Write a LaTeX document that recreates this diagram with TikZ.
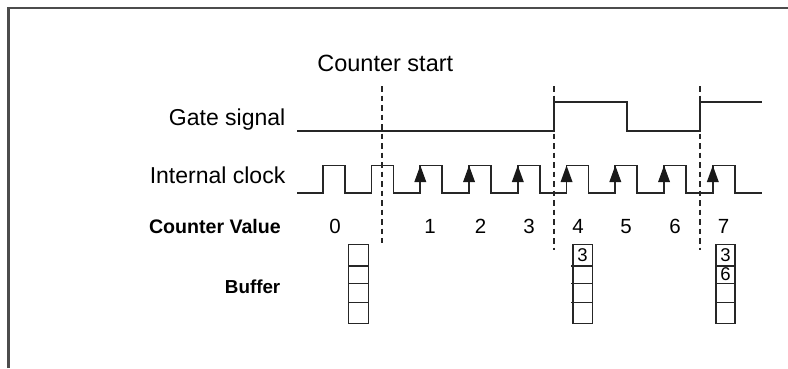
\documentclass[tikz,border=0pt]{standalone}
\usepackage{fontspec}
\setmainfont{Liberation Sans}
\begin{document}
\begin{tikzpicture}[x=1pt,y=-1pt,
  lbl/.style={anchor=base east,inner sep=0pt,font=\fontsize{23}{26}\selectfont},
  blbl/.style={anchor=base east,inner sep=0pt,font=\bfseries\fontsize{19.6}{22}\selectfont},
  num/.style={anchor=base,inner sep=0pt,font=\fontsize{20.5}{22}\selectfont},
  cellnum/.style={inner sep=0pt,font=\fontsize{18.5}{19}\selectfont},
  wave/.style={line width=1.7pt,black!85,line join=miter},
  dashline/.style={line width=1.4pt,dash pattern=on 5.5pt off 4pt,black!85},
  cellbox/.style={line width=1.6pt,black!85},
  frame/.style={line width=2.4pt,black!70}]
\useasboundingbox (0,0) rectangle (788,368);
\fill[white] (0,0) rectangle (788,368);
% frame (only top and left visible)
\draw[frame] (8.3,368) -- (8.3,8) -- (788,8);

% labels
\node[anchor=base,inner sep=0pt,font=\fontsize{23.5}{26}\selectfont] (cs) at (385.3,71.7) {Counter start};
\node[lbl] (gl) at (285.5,125) {Gate signal};
\node[lbl] (cl) at (285.5,183.3) {Internal clock};
\node[blbl] (cvl) at (281,233.3) {Counter Value};
\node[blbl,font=\bfseries\fontsize{18.8}{21}\selectfont] (bl) at (280.5,293.3) {Buffer};

% dashed markers
\coordinate (d1t) at (382,86); \coordinate (d1b) at (382,243);
\coordinate (d2t) at (554,86); \coordinate (d2b) at (554,250);
\coordinate (d3t) at (700,86); \coordinate (d3b) at (700,250);
\draw[dashline] (d1t) -- (d1b);
\draw[dashline] (d2t) -- (d2b);
\draw[dashline] (d3t) -- (d3b);

% gate signal
\draw[wave] (297,131) -- (554,131) -- (554,102) -- (627,102) -- (627,131)
  -- (700,131) -- (700,102) -- (762,102);

% internal clock
\draw[wave] (297,193)
  \foreach \i in {0,...,8} {
    -- ({322.8+48.75*\i},193) -- ({322.8+48.75*\i},165.5)
    -- ({344.8+48.75*\i},165.5) -- ({344.8+48.75*\i},193)
  } -- (762,193);
\foreach \i in {2,...,8} {
  \fill[black!90] ({322.8+48.75*\i},165.5) -- ({322.8+48.75*\i-6},182)
     -- ({322.8+48.75*\i+6},182) -- cycle;
}

% counter values
\node[num] (n0) at (335,233) {0};
\node[num] (n1) at (430,233) {1};
\node[num] (n2) at (480.5,233) {2};
\node[num] (n3) at (529,233) {3};
\node[num] (n4) at (578,233) {4};
\node[num] (n5) at (626,233) {5};
\node[num] (n6) at (675,233) {6};
\node[num] (n7) at (723.5,233) {7};

% buffers
\draw[cellbox] (348.3,244.3) rectangle (368.3,323.3);
\draw[cellbox] (348.3,266) -- (368.3,266);
\draw[cellbox] (348.3,283.3) -- (368.3,283.3);
\draw[cellbox] (348.3,302.3) -- (368.3,302.3);

\draw[cellbox] (572.7,244.3) rectangle (592.3,323.3);
\draw[cellbox] (571,266) -- (592.3,266);
\draw[cellbox] (571,283.3) -- (592.3,283.3);
\draw[cellbox] (571,302.3) -- (592.3,302.3);
\node[cellnum] (b4a) at (582.5,255.2) {3};

\draw[cellbox] (716,244.3) rectangle (735,323.3);
\draw[cellbox] (716,266) -- (735,266);
\draw[cellbox] (716,283.3) -- (735,283.3);
\draw[cellbox] (716,302.3) -- (735,302.3);
\node[cellnum] (b7a) at (725.5,255.2) {3};
\node[cellnum] (b7b) at (725.5,274.6) {6};
\end{tikzpicture}
\end{document}
